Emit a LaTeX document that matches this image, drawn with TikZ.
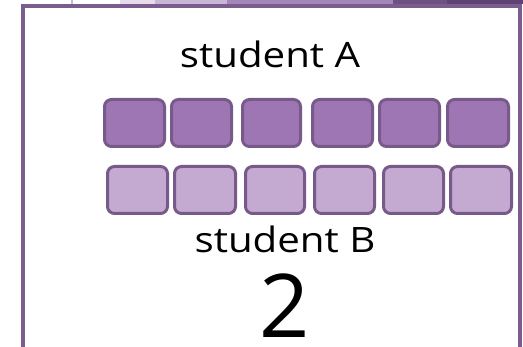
\documentclass[tikz,border=0pt]{standalone}
\usepackage{fontspec}
\setmainfont{Open Sans}
\newfontfamily\widefont[FakeStretch=1.15]{Open Sans}
\definecolor{framec}{HTML}{7B5C8E}
\definecolor{boxline}{HTML}{775A89}
\definecolor{afill}{HTML}{9E76B4}
\definecolor{bfill}{HTML}{C4AAD0}
\definecolor{band1}{HTML}{E6DCEC}
\definecolor{band2}{HTML}{C9B5D6}
\definecolor{band3}{HTML}{A586BA}
\definecolor{band4}{HTML}{6E5183}
\definecolor{band5}{HTML}{5E4274}
\tikzset{
  ablock/.style={draw=boxline, fill=afill, line width=3pt, rounded corners=7pt},
  bblock/.style={draw=boxline, fill=bfill, line width=3pt, rounded corners=7pt},
  lbl/.style={font=\widefont\fontsize{35}{40}\selectfont, inner sep=0pt, anchor=base},
}
\begin{document}
\begin{tikzpicture}[x=1pt,y=-1pt]
\useasboundingbox (0,0) rectangle (523,347);
% top band
\fill[band1] (120,0) rectangle (155,4.5);
\fill[band2] (155,0) rectangle (227,4.5);
\fill[band3] (227,0) rectangle (393,4.5);
\fill[band4] (393,0) rectangle (447,4.5);
\fill[band5] (447,0) rectangle (523,4.5);
\draw[band2, line width=1.2pt] (72,0) -- (72,5);
% frame
\draw[framec, line width=4pt] (23,360) -- (23,6.5) -- (520,6.5) -- (520,360);
% student A row
\foreach \x/\w [count=\i] in {103/60,170/60,241/58,311/60,378/60,446/61}{
  \node[ablock, minimum width=\w pt, minimum height=47pt, inner sep=0pt, anchor=north west] (a\i) at (\x,98) {};
}
% student B row
\foreach \x/\w [count=\i] in {106/60,173/61,244/59,313/60,382/60,449/61}{
  \node[bblock, minimum width=\w pt, minimum height=47pt, inner sep=0pt, anchor=north west] (b\i) at (\x,165) {};
}
\node[lbl] (ta) at (270,68) {student A};
\node[lbl] (tb) at (285,253) {student B};
\node[inner sep=0pt, anchor=base, font=\fontsize{88}{90}\selectfont] (num) at (285,338) {2};
\end{tikzpicture}
\end{document}
